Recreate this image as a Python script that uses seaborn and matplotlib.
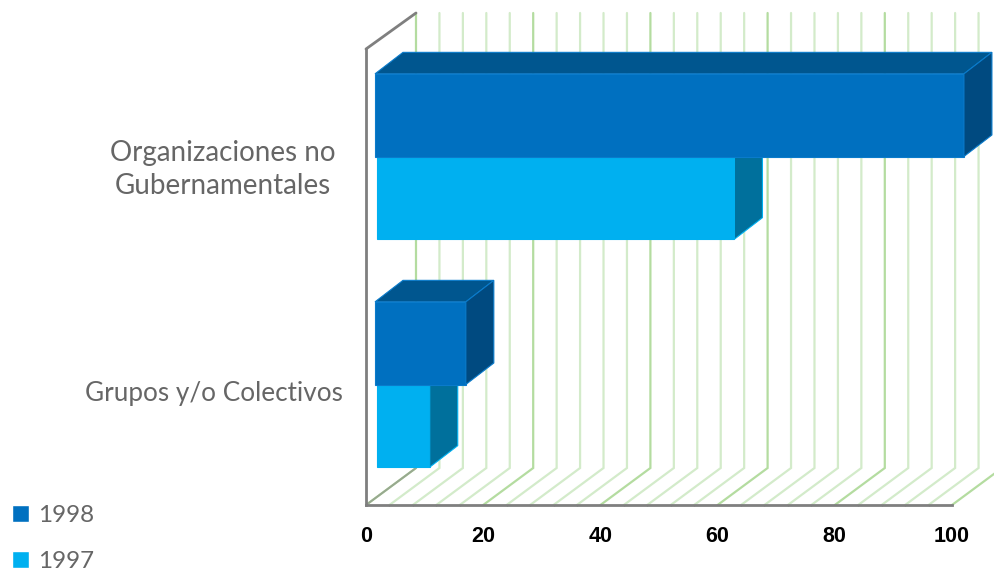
import matplotlib
matplotlib.use("Agg")
import matplotlib.pyplot as plt
import pandas as pd
import seaborn as sns
from matplotlib.patches import Polygon
from matplotlib.transforms import ScaledTranslation

categories = ["Organizaciones no\nGubernamentales", "Grupos y/o Colectivos"]
years = ["1998", "1997"]
values_1998 = [100.5, 15.5]
values_1997 = [61, 9]
major_ticks = [0, 20, 40, 60, 80, 100]
minor_ticks = [4, 8, 12, 16, 24, 28, 32, 36, 44, 48, 52, 56, 64, 68, 72, 76, 84, 88, 92, 96]

front_colors = {"1998": "#0070C0", "1997": "#00B0F0"}
top_colors = {"1998": "#00568F", "1997": "#0088B8"}
side_colors = {"1998": "#004A80", "1997": "#00709C"}
edge_colors = {"1998": "#0A7BCB", "1997": "#00B0F0"}

df = pd.DataFrame({
    "cat": categories * 2,
    "val": values_1998 + values_1997,
    "year": ["1998"] * 2 + ["1997"] * 2,
})

sns.set_theme(style="white")
plt.rcParams["font.family"] = ["Lato", "DejaVu Sans"]

fig = plt.figure(figsize=(9.94, 5.71), dpi=100)
ax = fig.add_axes([366 / 994, (571 - 505) / 571, 586 / 994, 456 / 571])

sns.barplot(data=df, y="cat", x="val", hue="year", order=categories, hue_order=years,
            palette=front_colors, width=0.725, saturation=1, ax=ax)

ax.set_xlim(0, 100)
ax.set_ylim(1.5, -0.5)
ax.set_xlabel("")
ax.set_ylabel("")

# pixel sizes of the fake 3d, turned into data units
px_x = 100 / 586
px_y = 2 / 456
wall_dx = 50 * px_x
wall_dy = 37 * px_y
bar_dx = 28 * px_x
bar_dy = 21.5 * px_y
shift_y = -6.5 * px_y
shift_x = {"1998": 9 * px_x, "1997": 11 * px_x}

# back wall and floor grid
for t in minor_ticks + major_ticks:
    col = "#B4DCA0" if t in major_ticks else "#D3EBCA"
    ax.plot([t, t + wall_dx, t + wall_dx], [1.5, 1.5 - wall_dy, -0.5 - 36 * px_y],
            color=col, lw=1.6, clip_on=False, zorder=1, solid_joinstyle="miter")
ax.plot([0, wall_dx], [1.5, 1.5 - wall_dy], color="#98A890", lw=1.4, clip_on=False, zorder=1.5)
ax.plot([0, wall_dx], [-0.5, -0.5 - 36 * px_y], color="#7F7F7F", lw=2, clip_on=False, zorder=2)

# 3d faces for each bar
for level, container in zip(years, ax.containers):
    z = 4 if level == "1998" else 3
    for bar in container:
        bar.set_x(bar.get_x() + shift_x[level])
        bar.set_y(bar.get_y() + shift_y)
        bar.set_edgecolor(edge_colors[level])
        bar.set_linewidth(0.8)
        bar.set_zorder(z)
        bar.set_clip_on(False)
        x0, x1 = bar.get_x(), bar.get_x() + bar.get_width()
        y0, y1 = bar.get_y(), bar.get_y() + bar.get_height()
        ax.add_patch(Polygon([(x0, y0), (x1, y0), (x1 + bar_dx, y0 - bar_dy), (x0 + bar_dx, y0 - bar_dy)],
                             facecolor=top_colors[level], edgecolor=edge_colors[level], lw=0.8,
                             clip_on=False, zorder=z))
        ax.add_patch(Polygon([(x1, y0), (x1 + bar_dx, y0 - bar_dy), (x1 + bar_dx, y1 - bar_dy), (x1, y1)],
                             facecolor=side_colors[level], edgecolor=edge_colors[level], lw=0.8,
                             clip_on=False, zorder=z))

sns.despine(ax=ax, top=True, right=True)
for s in ["left", "bottom"]:
    ax.spines[s].set_color("#7F7F7F")
    ax.spines[s].set_linewidth(2)
    ax.spines[s].set_zorder(2)

ax.set_xticks(major_ticks)
ax.set_xticks(minor_ticks, minor=True)
ax.tick_params(axis="x", which="major", length=5, width=1.5, color="#7F7F7F", pad=10)
ax.tick_params(axis="x", which="minor", length=1, width=1, color="#7F7F7F", bottom=True)
ax.tick_params(axis="y", length=0, pad=17)
for lbl in ax.get_xticklabels():
    lbl.set_family("Liberation Sans")
    lbl.set_fontweight("bold")
    lbl.set_fontsize(15.5)
    lbl.set_color("black")
ylabels = ax.get_yticklabels()
for lbl in ylabels:
    lbl.set_fontsize(18.8)
    lbl.set_fontweight("regular")
    lbl.set_color("#666666")
    lbl.set_multialignment("center")
    lbl.set_linespacing(1.35)
# the two line label sits a bit further from the axis and runs wider
ylabels[0].set_fontsize(20)
ylabels[0].set_transform(ylabels[0].get_transform() + ScaledTranslation(-7 / 100, 0, fig.dpi_scale_trans))

handles, labels = ax.get_legend_handles_labels()
ax.legend(handles, labels, loc="lower left", bbox_to_anchor=(-10 / 994, -23 / 571),
          bbox_transform=fig.transFigure, frameon=False,
          handlelength=0.72, handleheight=0.72, handletextpad=0.36, labelspacing=1.02,
          prop={"size": 17.5, "weight": "regular"}, labelcolor="#666666")

fig.savefig("out.png", dpi=100)
